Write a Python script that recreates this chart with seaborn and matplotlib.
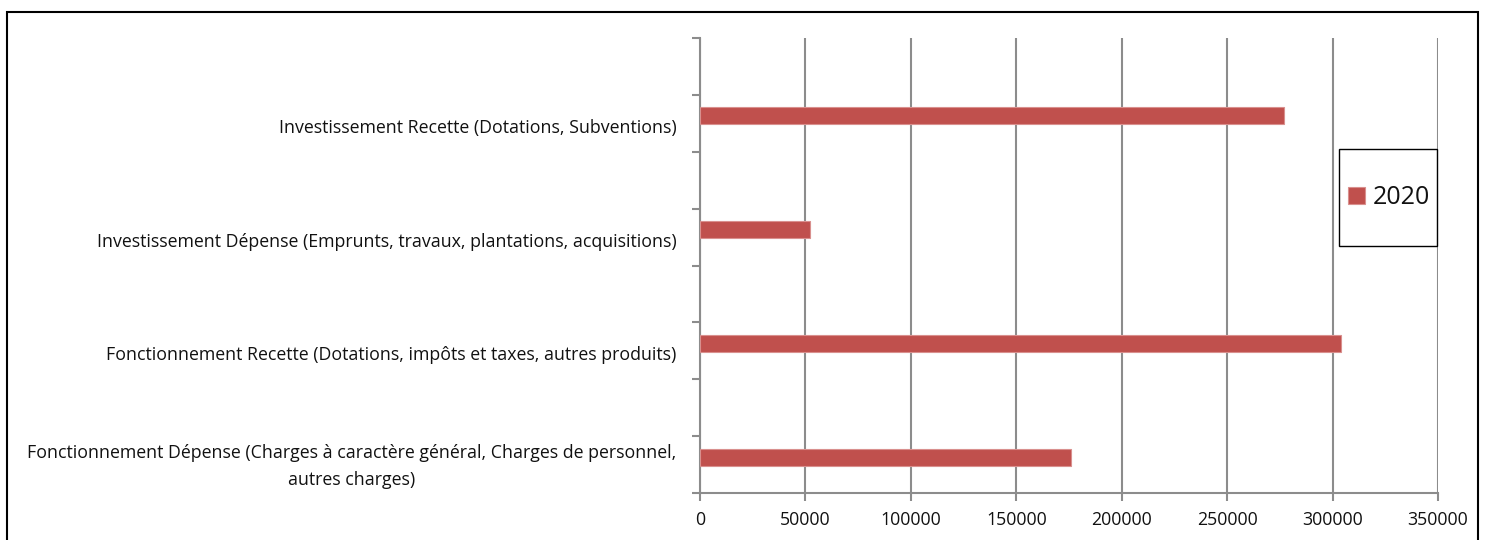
import numpy as np
import pandas as pd
import seaborn as sns
import matplotlib.pyplot as plt
from matplotlib.patches import Rectangle

# donnees
categories = [
    "Investissement Recette (Dotations, Subventions)",
    "Investissement Dépense (Emprunts, travaux, plantations, acquisitions)",
    "Fonctionnement Recette (Dotations, impôts et taxes, autres produits)",
    "Fonctionnement Dépense (Charges à caractère général, Charges de personnel,\nautres charges)",
]
valeurs_2020 = [277000, 52000, 304000, 176000]
x_ticks = [0, 50000, 100000, 150000, 200000, 250000, 300000, 350000]
serie = "2020"


def main():
    df = pd.DataFrame({"categorie": categories, "valeur": valeurs_2020, "serie": serie})

    sns.set_style("white")
    plt.rcParams["font.family"] = ["Open Sans", "DejaVu Sans"]

    fig = plt.figure(figsize=(14.86, 5.4), dpi=100)
    ax = fig.add_axes([700 / 1486, 1 - 493 / 540, 738 / 1486, 455 / 540])

    sns.barplot(data=df, x="valeur", y="categorie", hue="serie", orient="h",
                palette=["#C0504D"], saturation=1, width=0.15, edgecolor="#D9908E",
                linewidth=0.8, ax=ax, zorder=3)

    # axe x
    ax.set_xlim(0, 350000)
    ax.set_xticks(x_ticks)
    ax.set_xticklabels([str(v) for v in x_ticks], fontsize=12.8, color="#111111")
    ax.grid(axis="x", color="#8c8c8c", linewidth=1.5, zorder=0)
    ax.set_axisbelow(True)

    # axe y : graduations entre les categories, libelles un peu decales
    ax.set_ylim(3.307, -0.684)
    ax.set_yticks(np.arange(-0.684, 3.4, 0.5))
    ax.set_yticklabels([])
    decalage = np.array([0.088, 0.088, 0.088, 0.03])
    ax.set_yticks(np.arange(len(categories)) + decalage, minor=True)
    ax.set_yticklabels(categories, minor=True, fontsize=12.8, color="#111111",
                       ha="right", multialignment="center", linespacing=1.6)
    ax.tick_params(axis="y", which="minor", length=0, pad=17)
    ax.tick_params(axis="y", which="major", length=6, width=1.5, color="#8c8c8c", direction="out", left=True)
    ax.tick_params(axis="x", length=6, width=1.5, color="#8c8c8c", direction="out", bottom=True, pad=7)
    ax.set_xlabel("")
    ax.set_ylabel("")

    for cote in ["top", "right"]:
        ax.spines[cote].set_visible(False)
    for cote in ["left", "bottom"]:
        ax.spines[cote].set_color("#8c8c8c")
        ax.spines[cote].set_linewidth(1.5)

    # legende dans un cadre carre
    x0, y0, w, h = 1339 / 1486, 1 - 246 / 540, 98 / 1486, 97 / 540
    fig.patches.append(Rectangle((x0, y0), w, h, transform=fig.transFigure,
                                 fill=False, edgecolor="black", linewidth=1.0))
    leg = ax.legend(loc="center", bbox_to_anchor=(x0 + w / 2 + 1 / 1486, y0 + h / 2),
                    bbox_transform=fig.transFigure, fontsize=18, frameon=False,
                    handlelength=0.7, handleheight=0.7, handletextpad=0.3,
                    borderpad=0, borderaxespad=0)
    for t in leg.get_texts():
        t.set_color("#111111")

    # cadre exterieur
    fig.patches.append(Rectangle((7 / 1486, -0.1), 1471 / 1486, 1.1 - 12 / 540,
                                 transform=fig.transFigure, fill=False,
                                 edgecolor="black", linewidth=1.5))

    fig.savefig("out.png", dpi=100)


if __name__ == "__main__":
    main()
